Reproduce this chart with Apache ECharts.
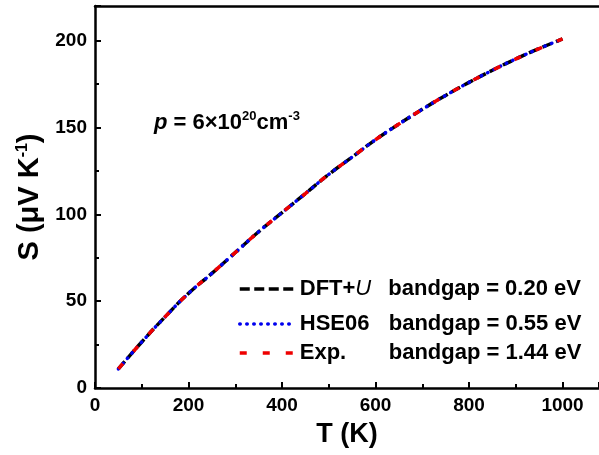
<!DOCTYPE html>
<html>
<head>
<meta charset="utf-8">
<script src="https://cdn.jsdelivr.net/npm/echarts@6/dist/echarts.min.js"></script>
<style>
  html, body { margin: 0; padding: 0; background: #fff; }
  #chart { width: 599px; height: 455px; }
</style>
</head>
<body>
<div id="chart"></div>
<script>
// temperature (K) and Seebeck coefficient (uV/K)
const tempK  = [50, 100, 150, 200, 250, 300, 350, 400, 450, 500, 550, 600, 650, 700, 750, 800, 850, 900, 950, 1000];
const sDftU  = [11, 26.5, 41, 54.5, 66, 78, 90, 101, 112, 123, 133, 143, 152, 160.5, 168.5, 176, 183, 189.5, 195.5, 201];
const sHse06 = [11, 26.5, 41, 54.5, 66, 78, 90, 101, 112, 123, 133, 143, 152, 160.5, 168.5, 176, 183, 189.5, 195.5, 201];
const sExp   = [11, 26.5, 41, 54.5, 66, 78, 90, 101, 112, 123, 133, 143, 152, 160.5, 168.5, 176, 183, 189.5, 195.5, 201];

const seriesNames = ['DFT+U', 'HSE06', 'Exp.'];
const bandgaps = ['0.20', '0.55', '1.44'];

const FONT = '"Liberation Sans", Arial, sans-serif';

const chart = echarts.init(document.getElementById('chart'));

const pairs = (ys) => tempK.map((t, i) => [t, ys[i]]);

const legendRich = {
  a: { fontFamily: FONT, fontSize: 22, fontWeight: 'bold', color: '#000' },
  u: { fontFamily: FONT, fontSize: 22, fontStyle: 'italic', color: '#000', width: 33 },
  m: { fontFamily: FONT, fontSize: 22, fontWeight: 'bold', color: '#000', width: 89 },
  b: { fontFamily: FONT, fontSize: 22, fontWeight: 'bold', color: '#000' }
};

const legendFmt = (name) => {
  const i = seriesNames.indexOf(name);
  const gap = 'bandgap = ' + bandgaps[i] + ' eV';
  if (name === 'DFT+U') return '{a|DFT+}{u|U}{b|' + gap + '}';
  return '{m|' + name + '}{b|' + gap + '}';
};

const mkLegend = (name, top) => ({
  data: [name],
  left: 238,
  top: top,
  itemWidth: 55,
  itemHeight: 14,
  itemGap: 0,
  padding: 0,
  selectedMode: false,
  itemStyle: { opacity: 0 },
  lineStyle: { width: 3.5, inactiveWidth: 3.5 },
  formatter: legendFmt,
  textStyle: { rich: legendRich }
});

const axisCommon = {
  axisLine: { show: true, lineStyle: { color: '#000', width: 2.5 } },
  axisTick: { show: true, inside: true, length: 6, lineStyle: { color: '#000', width: 2 } },
  minorTick: { show: true, splitNumber: 2, length: 4, lineStyle: { color: '#000', width: 2 } },
  splitLine: { show: false },
  axisLabel: {
    color: '#000', fontFamily: FONT, fontSize: 19, fontWeight: 'bold',
    margin: 8, showMaxLabel: false, formatter: (v) => String(v)
  }
};

const option = {
  animation: false,
  backgroundColor: '#fff',
  grid: { left: 95, top: 6, right: 0, bottom: 67 },
  legend: [
    mkLegend('DFT+U', 278),
    mkLegend('HSE06', 313),
    mkLegend('Exp.', 342)
  ],
  xAxis: [
    Object.assign({}, axisCommon, {
      type: 'value', min: 0, max: 1078, interval: 200,
      name: 'T (K)', nameLocation: 'middle', nameGap: 33,
      nameTextStyle: { color: '#000', fontFamily: FONT, fontSize: 27, fontWeight: 'bold' }
    }),
    {
      type: 'value', position: 'top', min: 0, max: 1078,
      axisLine: { show: true, onZero: false, lineStyle: { color: '#000', width: 2.5 } },
      axisTick: { show: false }, axisLabel: { show: false }, splitLine: { show: false }
    }
  ],
  yAxis: Object.assign({}, axisCommon, {
    type: 'value', min: 0, max: 220, interval: 50,
    name: 'S (\u03bcV K{sup|-1})', nameLocation: 'middle', nameGap: 50,
    nameTextStyle: {
      color: '#000', fontFamily: FONT, fontSize: 29, fontWeight: 'bold',
      rich: {
        sup: { fontFamily: FONT, fontSize: 16, fontWeight: 'bold', color: '#000', padding: [0, 0, 14, 0] }
      }
    }
  }),
  graphic: [{
    type: 'text',
    left: 154,
    top: 110,
    style: {
      text: '{p|p}{n| = 6\u00d710}{s|20}{n|cm}{s|-3}',
      rich: {
        p: { fontFamily: FONT, fontSize: 22, fontStyle: 'italic', fontWeight: 'bold', fill: '#000' },
        n: { fontFamily: FONT, fontSize: 22, fontWeight: 'bold', fill: '#000' },
        s: { fontFamily: FONT, fontSize: 13, fontWeight: 'bold', fill: '#000', padding: [0, 0, 12, 0] }
      }
    }
  }],
  series: [
    {
      name: 'DFT+U', type: 'line', data: pairs(sDftU), smooth: true,
      showSymbol: false, symbol: 'none', z: 2,
      lineStyle: { color: '#000', width: 3.5, type: [10, 4.5] },
      itemStyle: { color: '#000' }
    },
    {
      name: 'HSE06', type: 'line', data: pairs(sHse06), smooth: true,
      showSymbol: false, symbol: 'none', z: 3,
      lineStyle: { color: '#0000ee', width: 3.5, type: [0.5, 6.5], cap: 'round' },
      itemStyle: { color: '#0000ee' }
    },
    {
      name: 'Exp.', type: 'line', data: pairs(sExp), smooth: true,
      showSymbol: false, symbol: 'none', z: 4,
      lineStyle: { color: '#ee0000', width: 3.5, type: [7, 16] },
      itemStyle: { color: '#ee0000' }
    }
  ]
};

chart.setOption(option);
</script>
</body>
</html>
